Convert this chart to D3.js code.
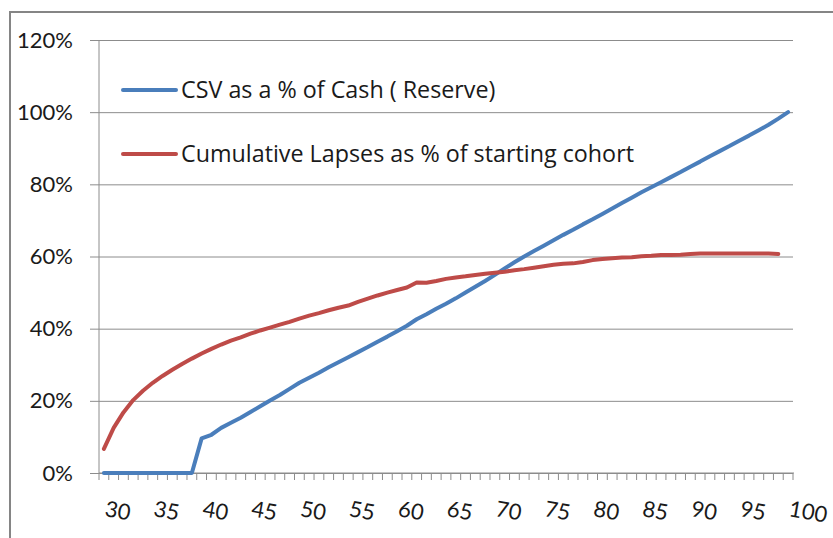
<!DOCTYPE html>
<html>
<head>
<meta charset="utf-8">
<script src="https://cdn.jsdelivr.net/npm/d3@7"></script>
<style>
  html, body { margin: 0; padding: 0; background: #fff; }
  svg { display: block; font-family: Lato, "Liberation Sans", sans-serif; }
</style>
</head>
<body>
<svg id="chart" width="833" height="538"></svg>
<script>
"use strict";

// ages on the category axis, labelled every 5th
const ages = d3.range(30, 101);
const ageLabels = [30, 35, 40, 45, 50, 55, 60, 65, 70, 75, 80, 85, 90, 95, 100];
const yTicks = [0, 20, 40, 60, 80, 100, 120];

const seriesNames = ["CSV as a % of Cash ( Reserve)", "Cumulative Lapses as % of starting cohort"];
const seriesColors = ["#4a7ebb", "#be4b48"];

// CSV as % of cash reserve, ages 30..100
const csvReserve = [
  0, 0, 0, 0, 0, 0, 0, 0, 0, 0,
  9.6, 10.6, 12.5, 13.9, 15.3, 16.9, 18.5, 20.1, 21.6, 23.3,
  25.0, 26.4, 27.8, 29.3, 30.7, 32.1, 33.5, 34.9, 36.4, 37.8,
  39.3, 40.8, 42.6, 44.0, 45.5, 46.9, 48.4, 50.0, 51.6, 53.2,
  54.9, 56.7, 58.4, 60.0, 61.5, 63.0, 64.5, 66.0, 67.4, 68.9,
  70.3, 71.8, 73.3, 74.8, 76.3, 77.8, 79.2, 80.6, 82.0, 83.4,
  84.9, 86.3, 87.8, 89.2, 90.6, 92.1, 93.5, 95.0, 96.5, 98.2,
  100
];

// cumulative lapses as % of starting cohort, ages 30..99
const cumLapses = [
  6.7, 12.5, 16.8, 20.2, 22.8, 25.0, 26.9, 28.6, 30.2, 31.7,
  33.1, 34.4, 35.6, 36.7, 37.6, 38.6, 39.5, 40.3, 41.1, 41.9,
  42.8, 43.6, 44.3, 45.1, 45.8, 46.4, 47.4, 48.3, 49.2, 50.0,
  50.7, 51.4, 52.8, 52.7, 53.2, 53.8, 54.2, 54.5, 54.9, 55.2,
  55.5, 55.8, 56.2, 56.5, 56.9, 57.3, 57.7, 58.0, 58.1, 58.5,
  59.0, 59.3, 59.5, 59.7, 59.8, 60.1, 60.2, 60.4, 60.4, 60.5,
  60.7, 60.8, 60.8, 60.8, 60.8, 60.8, 60.8, 60.8, 60.8, 60.7
];

const svg = d3.select("#chart");
const gridColor = "#8c8c8c";

// outer chart frame (runs off the right and bottom of the picture)
svg.append("rect")
  .attr("x", 10).attr("y", 12)
  .attr("width", 900).attr("height", 600)
  .attr("fill", "#fff")
  .attr("stroke", "#858585").attr("stroke-width", 2);

const plot = { left: 99, right: 793, top: 40, bottom: 473 };

const x = d3.scaleBand().domain(ages).range([plot.left, plot.right]);
const bw = x.bandwidth();
const cx = a => x(a) + bw / 2;

const y = d3.scaleLinear().domain([0, 120]).range([plot.bottom, plot.top]);

// gridlines + y labels
const yAxis = d3.axisLeft(y)
  .tickValues(yTicks)
  .tickSize(-(plot.right - plot.left))
  .tickSizeOuter(0)
  .tickPadding(26)
  .tickFormat(d => d + "%");

const gy = svg.append("g")
  .attr("transform", `translate(${plot.left},0)`)
  .call(yAxis);
gy.select(".domain").remove();
gy.selectAll(".tick line")
  .attr("x1", -9)
  .attr("stroke", gridColor);
gy.selectAll(".tick text")
  .attr("font-size", 22)
  .attr("fill", "#1a1a1a")
  .attr("font-family", "Lato, 'Liberation Sans', sans-serif");

// vertical axis line
svg.append("line")
  .attr("x1", plot.left).attr("x2", plot.left)
  .attr("y1", y(120)).attr("y2", y(0))
  .attr("stroke", gridColor);

// category axis: line, ticks at band edges, slanted labels
const gx = svg.append("g");
gx.append("line")
  .attr("x1", plot.left).attr("x2", plot.right + 1)
  .attr("y1", y(0)).attr("y2", y(0))
  .attr("stroke", gridColor);

const edges = ages.map(a => x(a)).concat([x(ages[ages.length - 1]) + bw]);
gx.selectAll("line.tick").data(edges).join("line")
  .attr("class", "tick")
  .attr("x1", d => d).attr("x2", d => d)
  .attr("y1", y(0)).attr("y2", y(0) + 7)
  .attr("stroke", gridColor);

gx.selectAll("text").data(ageLabels).join("text")
  .attr("transform", d => `translate(${cx(d)},${y(0) + 43}) rotate(10)`)
  .attr("text-anchor", "start")
  .attr("font-size", 22)
  .attr("fill", "#1a1a1a")
  .text(d => d);

// series
const line = d3.line()
  .x((d, i) => cx(ages[i]))
  .y(d => y(d));

[csvReserve, cumLapses].forEach((vals, j) => {
  svg.append("path")
    .attr("d", line(vals))
    .attr("fill", "none")
    .attr("stroke", seriesColors[j])
    .attr("stroke-width", 4)
    .attr("stroke-linejoin", "round")
    .attr("stroke-linecap", "round");
});

// legend inside the plot, top-left
const legend = svg.append("g");
seriesNames.forEach((name, j) => {
  let ly = 90 + j * 64;
  legend.append("line")
    .attr("x1", 123).attr("x2", 176)
    .attr("y1", ly).attr("y2", ly)
    .attr("stroke", seriesColors[j])
    .attr("stroke-width", 4)
    .attr("stroke-linecap", "round");
  legend.append("text")
    .attr("x", 181).attr("y", ly)
    .attr("dy", "0.36em")
    .attr("font-size", 23.3)
    .attr("font-family", "'Open Sans', Lato, sans-serif")
    .attr("fill", "#1a1a1a")
    .text(name);
});
</script>
</body>
</html>
